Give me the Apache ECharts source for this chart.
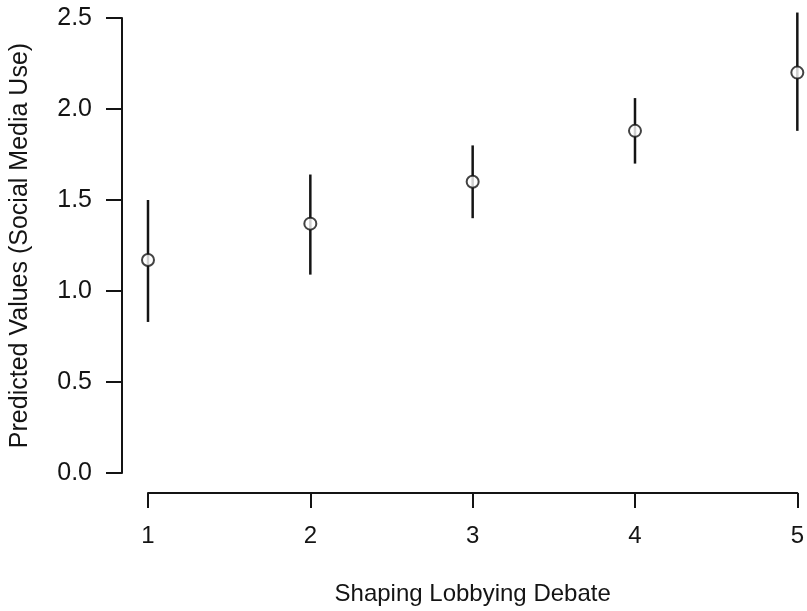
<!DOCTYPE html>
<html>
<head>
<meta charset="utf-8">
<script src="https://cdn.jsdelivr.net/npm/echarts@6/dist/echarts.min.js"></script>
<style>
  html, body { margin: 0; padding: 0; background: #fff; }
  #chart { width: 807px; height: 611px; }
</style>
</head>
<body>
<div id="chart"></div>
<script>
// Shaping Lobbying Debate levels
const levels = [1, 2, 3, 4, 5]
// predicted social media use, with the interval ends
const predicted = [1.17, 1.37, 1.60, 1.88, 2.20]
const lower = [0.83, 1.09, 1.40, 1.70, 1.88]
const upper = [1.50, 1.64, 1.80, 2.06, 2.53]

const ink = '#141414'
const font = 'Liberation Sans, Arial, Helvetica, sans-serif'

const barData = levels.map((lv, i) => [lv, lower[i], upper[i]])
const pointData = levels.map((lv, i) => [lv, predicted[i]])

const chart = echarts.init(document.getElementById('chart'))
chart.setOption({
	animation: false,
	backgroundColor: '#fff',
	grid: { left: 148, right: 6, top: 18, bottom: 138 },
	xAxis: {
		type: 'value',
		min: 1,
		max: 5,
		interval: 1,
		offset: 20,
		name: 'Shaping Lobbying Debate',
		nameLocation: 'middle',
		nameGap: 89,
		nameTextStyle: { color: ink, fontSize: 24, fontFamily: font },
		axisLine: { onZero: false, lineStyle: { color: ink, width: 2 } },
		axisTick: { length: 15, lineStyle: { color: ink, width: 2 } },
		axisLabel: { color: ink, fontSize: 24, fontFamily: font, margin: 31 },
		splitLine: { show: false }
	},
	yAxis: {
		type: 'value',
		min: 0,
		max: 2.5,
		interval: 0.5,
		offset: 26,
		name: 'Predicted Values (Social Media Use)',
		nameLocation: 'middle',
		nameGap: 89,
		nameTextStyle: { color: ink, fontSize: 25, fontFamily: font },
		axisLine: { onZero: false, lineStyle: { color: ink, width: 2 } },
		axisTick: { length: 16, lineStyle: { color: ink, width: 2 } },
		axisLabel: {
			color: ink, fontSize: 25, fontFamily: font, margin: 30,
			formatter: (v) => v.toFixed(1)
		},
		splitLine: { show: false }
	},
	series: [{
		type: 'custom',
		clip: false,
		data: barData,
		renderItem: (params, api) => {
			const top = api.coord([api.value(0), api.value(2)])
			const bottom = api.coord([api.value(0), api.value(1)])
			return {
				type: 'line',
				shape: { x1: top[0], y1: top[1], x2: bottom[0], y2: bottom[1] },
				style: { stroke: ink, lineWidth: 2.5 }
			}
		},
		z: 2
	}, {
		type: 'scatter',
		clip: false,
		data: pointData,
		symbol: 'circle',
		symbolSize: 12,
		itemStyle: { color: '#fff', borderColor: ink, borderWidth: 2 },
		z: 3
	}]
})
</script>
</body>
</html>
